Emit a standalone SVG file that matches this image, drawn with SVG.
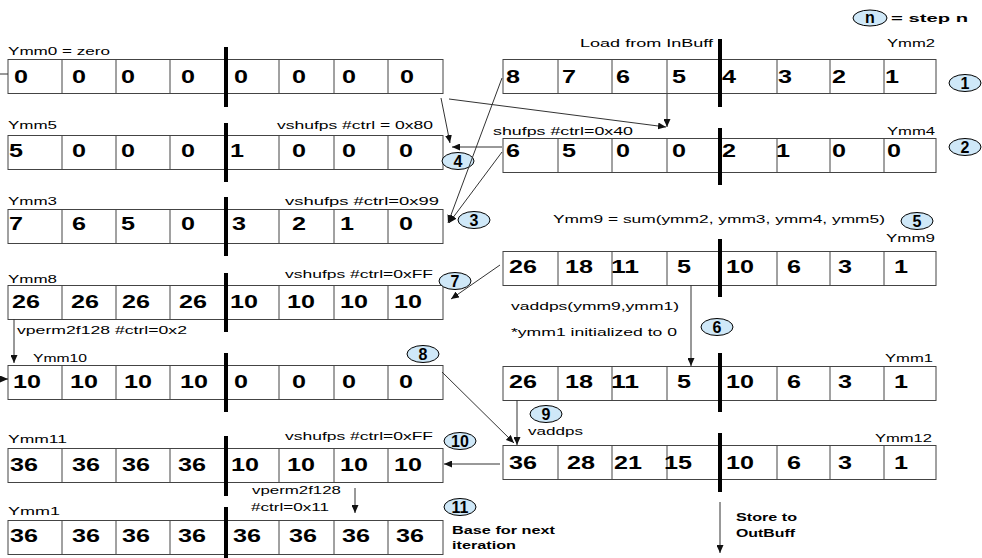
<svg xmlns="http://www.w3.org/2000/svg" width="982" height="558" viewBox="0 0 982 558">
<style>
.box{fill:#fff;stroke:#444;stroke-width:1}
.cl{stroke:#444;stroke-width:1}
.bar{fill:#000}
.d{font-family:"Liberation Sans",Arial,sans-serif;font-weight:bold;font-size:18px;fill:#000}
.t{font-family:"Liberation Sans",Arial,sans-serif;font-size:11.5px;fill:#000}
.tb{font-family:"Liberation Sans",Arial,sans-serif;font-size:11.5px;font-weight:bold;fill:#000}
.e{fill:#cfe8f8;stroke:#000;stroke-width:1}
.en{font-family:"Liberation Sans",Arial,sans-serif;font-weight:bold;font-size:16px;fill:#000;text-anchor:middle}
.c{fill:none;stroke:#333;stroke-width:1}
.a{marker-end:url(#ah)}
</style>
<defs>
<marker id="ah" markerUnits="userSpaceOnUse" markerWidth="8" markerHeight="7" refX="8" refY="3.5" orient="auto">
<path d="M0,0 L8,3.5 L0,7 z" fill="#111"/>
</marker>
<g id="cellsL">
<rect class="box" x="8" y="0" width="435" height="34"/>
<path class="cl" d="M62,0V34M116,0V34M170,0V34M279,0V34M334,0V34M388,0V34"/>
</g>
<g id="cellsR">
<rect class="box" x="503" y="0" width="433" height="34"/>
<path class="cl" d="M558,0V34M612,0V34M667,0V34M777,0V34M830,0V34M884,0V34"/>
</g>
</defs>

<g id="legend">
<ellipse class="e" cx="870" cy="18" rx="17" ry="8"/>
<text class="en" x="870" y="23">n</text>
<text class="tb" x="891" y="22" font-size="13" textLength="77" lengthAdjust="spacingAndGlyphs">= step n</text>
</g>

<g id="ymm0">
<text class="t" x="8" y="55" textLength="102" lengthAdjust="spacingAndGlyphs">Ymm0 = zero</text>
<use href="#cellsL" y="59.5"/>
<rect class="bar" x="224" y="47" width="4" height="60"/>
<g class="d">
<text x="14" y="83" textLength="14" lengthAdjust="spacingAndGlyphs">0</text>
<text x="72" y="83" textLength="14" lengthAdjust="spacingAndGlyphs">0</text>
<text x="121" y="83" textLength="14" lengthAdjust="spacingAndGlyphs">0</text>
<text x="181" y="83" textLength="14" lengthAdjust="spacingAndGlyphs">0</text>
<text x="234" y="83" textLength="14" lengthAdjust="spacingAndGlyphs">0</text>
<text x="292" y="83" textLength="14" lengthAdjust="spacingAndGlyphs">0</text>
<text x="342" y="83" textLength="14" lengthAdjust="spacingAndGlyphs">0</text>
<text x="400" y="83" textLength="14" lengthAdjust="spacingAndGlyphs">0</text>
</g>
</g>

<g id="ymm5">
<text class="t" x="8" y="129" textLength="49" lengthAdjust="spacingAndGlyphs">Ymm5</text>
<text class="t" x="277" y="129" textLength="156" lengthAdjust="spacingAndGlyphs">vshufps #ctrl = 0x80</text>
<use href="#cellsL" y="135.5"/>
<rect class="bar" x="224" y="123" width="4" height="59"/>
<g class="d">
<text x="9" y="157" textLength="14" lengthAdjust="spacingAndGlyphs">5</text>
<text x="72" y="157" textLength="14" lengthAdjust="spacingAndGlyphs">0</text>
<text x="121" y="157" textLength="14" lengthAdjust="spacingAndGlyphs">0</text>
<text x="181" y="157" textLength="14" lengthAdjust="spacingAndGlyphs">0</text>
<text x="230" y="157" textLength="14" lengthAdjust="spacingAndGlyphs">1</text>
<text x="292" y="157" textLength="14" lengthAdjust="spacingAndGlyphs">0</text>
<text x="342" y="157" textLength="14" lengthAdjust="spacingAndGlyphs">0</text>
<text x="399" y="157" textLength="14" lengthAdjust="spacingAndGlyphs">0</text>
</g>
</g>

<g id="ymm3">
<text class="t" x="8" y="205" textLength="49" lengthAdjust="spacingAndGlyphs">Ymm3</text>
<text class="t" x="285" y="205" textLength="154" lengthAdjust="spacingAndGlyphs">vshufps #ctrl=0x99</text>
<use href="#cellsL" y="209.5"/>
<rect class="bar" x="224" y="197" width="4" height="59"/>
<g class="d">
<text x="9" y="230" textLength="14" lengthAdjust="spacingAndGlyphs">7</text>
<text x="72" y="230" textLength="14" lengthAdjust="spacingAndGlyphs">6</text>
<text x="121" y="230" textLength="14" lengthAdjust="spacingAndGlyphs">5</text>
<text x="181" y="230" textLength="14" lengthAdjust="spacingAndGlyphs">0</text>
<text x="232" y="230" textLength="14" lengthAdjust="spacingAndGlyphs">3</text>
<text x="292" y="230" textLength="14" lengthAdjust="spacingAndGlyphs">2</text>
<text x="340" y="230" textLength="14" lengthAdjust="spacingAndGlyphs">1</text>
<text x="399" y="230" textLength="14" lengthAdjust="spacingAndGlyphs">0</text>
</g>
</g>

<g id="ymm8">
<text class="t" x="8" y="283" textLength="49" lengthAdjust="spacingAndGlyphs">Ymm8</text>
<text class="t" x="285" y="278" textLength="148" lengthAdjust="spacingAndGlyphs">vshufps #ctrl=0xFF</text>
<use href="#cellsL" y="285.5"/>
<rect class="bar" x="224" y="273" width="4" height="59"/>
<g class="d">
<text x="12" y="308" textLength="28" lengthAdjust="spacingAndGlyphs">26</text>
<text x="71" y="308" textLength="28" lengthAdjust="spacingAndGlyphs">26</text>
<text x="122" y="308" textLength="28" lengthAdjust="spacingAndGlyphs">26</text>
<text x="179" y="308" textLength="28" lengthAdjust="spacingAndGlyphs">26</text>
<text x="230" y="308" textLength="28" lengthAdjust="spacingAndGlyphs">10</text>
<text x="287" y="308" textLength="28" lengthAdjust="spacingAndGlyphs">10</text>
<text x="340" y="308" textLength="28" lengthAdjust="spacingAndGlyphs">10</text>
<text x="394" y="308" textLength="28" lengthAdjust="spacingAndGlyphs">10</text>
</g>
</g>

<g id="ymm10">
<text class="t" x="17" y="334" textLength="170" lengthAdjust="spacingAndGlyphs">vperm2f128 #ctrl=0x2</text>
<text class="t" x="33" y="362" textLength="54" lengthAdjust="spacingAndGlyphs">Ymm10</text>
<use href="#cellsL" y="365.5"/>
<rect class="bar" x="224" y="353" width="4" height="59"/>
<g class="d">
<text x="13" y="388" textLength="28" lengthAdjust="spacingAndGlyphs">10</text>
<text x="70" y="388" textLength="28" lengthAdjust="spacingAndGlyphs">10</text>
<text x="124" y="388" textLength="28" lengthAdjust="spacingAndGlyphs">10</text>
<text x="180" y="388" textLength="28" lengthAdjust="spacingAndGlyphs">10</text>
<text x="234" y="388" textLength="14" lengthAdjust="spacingAndGlyphs">0</text>
<text x="292" y="388" textLength="14" lengthAdjust="spacingAndGlyphs">0</text>
<text x="342" y="388" textLength="14" lengthAdjust="spacingAndGlyphs">0</text>
<text x="399" y="388" textLength="14" lengthAdjust="spacingAndGlyphs">0</text>
</g>
</g>

<g id="ymm11">
<text class="t" x="8" y="443" textLength="59" lengthAdjust="spacingAndGlyphs">Ymm11</text>
<text class="t" x="285" y="440" textLength="148" lengthAdjust="spacingAndGlyphs">vshufps #ctrl=0xFF</text>
<use href="#cellsL" y="448.5"/>
<rect class="bar" x="224" y="436" width="4" height="60"/>
<g class="d">
<text x="10" y="471" textLength="28" lengthAdjust="spacingAndGlyphs">36</text>
<text x="72" y="471" textLength="28" lengthAdjust="spacingAndGlyphs">36</text>
<text x="122" y="471" textLength="28" lengthAdjust="spacingAndGlyphs">36</text>
<text x="178" y="471" textLength="28" lengthAdjust="spacingAndGlyphs">36</text>
<text x="231" y="471" textLength="28" lengthAdjust="spacingAndGlyphs">10</text>
<text x="287" y="471" textLength="28" lengthAdjust="spacingAndGlyphs">10</text>
<text x="340" y="471" textLength="28" lengthAdjust="spacingAndGlyphs">10</text>
<text x="394" y="471" textLength="28" lengthAdjust="spacingAndGlyphs">10</text>
</g>
</g>

<g id="ymm1L">
<text class="t" x="8" y="515" textLength="52" lengthAdjust="spacingAndGlyphs">Ymm1</text>
<text class="t" x="252" y="494" textLength="89" lengthAdjust="spacingAndGlyphs">vperm2f128</text>
<text class="t" x="251" y="511" textLength="78" lengthAdjust="spacingAndGlyphs">#ctrl=0x11</text>
<use href="#cellsL" y="520.5"/>
<rect class="bar" x="224" y="507" width="4" height="51"/>
<g class="d">
<text x="10" y="542" textLength="28" lengthAdjust="spacingAndGlyphs">36</text>
<text x="72" y="542" textLength="28" lengthAdjust="spacingAndGlyphs">36</text>
<text x="122" y="542" textLength="28" lengthAdjust="spacingAndGlyphs">36</text>
<text x="178" y="542" textLength="28" lengthAdjust="spacingAndGlyphs">36</text>
<text x="233" y="542" textLength="28" lengthAdjust="spacingAndGlyphs">36</text>
<text x="289" y="542" textLength="28" lengthAdjust="spacingAndGlyphs">36</text>
<text x="342" y="542" textLength="28" lengthAdjust="spacingAndGlyphs">36</text>
<text x="396" y="542" textLength="28" lengthAdjust="spacingAndGlyphs">36</text>
</g>
<text class="tb" x="452" y="534" textLength="103" lengthAdjust="spacingAndGlyphs">Base for next</text>
<text class="tb" x="452" y="549" textLength="64" lengthAdjust="spacingAndGlyphs">iteration</text>
</g>

<g id="ymm2">
<text class="t" x="580" y="47" textLength="133" lengthAdjust="spacingAndGlyphs">Load from InBuff</text>
<text class="t" x="887" y="47" textLength="48" lengthAdjust="spacingAndGlyphs">Ymm2</text>
<use href="#cellsR" y="59.5"/>
<rect class="bar" x="718" y="39" width="4" height="68"/>
<g class="d">
<text x="506" y="83" textLength="14" lengthAdjust="spacingAndGlyphs">8</text>
<text x="562" y="83" textLength="14" lengthAdjust="spacingAndGlyphs">7</text>
<text x="616" y="83" textLength="14" lengthAdjust="spacingAndGlyphs">6</text>
<text x="672" y="83" textLength="14" lengthAdjust="spacingAndGlyphs">5</text>
<text x="722" y="83" textLength="14" lengthAdjust="spacingAndGlyphs">4</text>
<text x="778" y="83" textLength="14" lengthAdjust="spacingAndGlyphs">3</text>
<text x="832" y="83" textLength="14" lengthAdjust="spacingAndGlyphs">2</text>
<text x="885" y="83" textLength="14" lengthAdjust="spacingAndGlyphs">1</text>
</g>
</g>

<g id="ymm4">
<text class="t" x="493" y="135" textLength="140" lengthAdjust="spacingAndGlyphs">shufps #ctrl=0x40</text>
<text class="t" x="887" y="135" textLength="48" lengthAdjust="spacingAndGlyphs">Ymm4</text>
<use href="#cellsR" y="138.5"/>
<rect class="bar" x="718" y="128" width="4" height="57"/>
<g class="d">
<text x="506" y="157" textLength="14" lengthAdjust="spacingAndGlyphs">6</text>
<text x="562" y="157" textLength="14" lengthAdjust="spacingAndGlyphs">5</text>
<text x="616" y="157" textLength="14" lengthAdjust="spacingAndGlyphs">0</text>
<text x="672" y="157" textLength="14" lengthAdjust="spacingAndGlyphs">0</text>
<text x="722" y="157" textLength="14" lengthAdjust="spacingAndGlyphs">2</text>
<text x="776" y="157" textLength="14" lengthAdjust="spacingAndGlyphs">1</text>
<text x="832" y="157" textLength="14" lengthAdjust="spacingAndGlyphs">0</text>
<text x="887" y="157" textLength="14" lengthAdjust="spacingAndGlyphs">0</text>
</g>
</g>

<g id="ymm9">
<text class="t" x="553" y="223" textLength="332" lengthAdjust="spacingAndGlyphs">Ymm9 = sum(ymm2, ymm3, ymm4, ymm5)</text>
<text class="t" x="886" y="242" textLength="49" lengthAdjust="spacingAndGlyphs">Ymm9</text>
<use href="#cellsR" y="251.5"/>
<rect class="bar" x="718" y="239" width="4" height="58"/>
<g class="d">
<text x="509" y="273" textLength="28" lengthAdjust="spacingAndGlyphs">26</text>
<text x="565" y="273" textLength="28" lengthAdjust="spacingAndGlyphs">18</text>
<text x="611" y="273" textLength="28" lengthAdjust="spacingAndGlyphs">11</text>
<text x="677" y="273" textLength="14" lengthAdjust="spacingAndGlyphs">5</text>
<text x="726" y="273" textLength="28" lengthAdjust="spacingAndGlyphs">10</text>
<text x="787" y="273" textLength="14" lengthAdjust="spacingAndGlyphs">6</text>
<text x="838" y="273" textLength="14" lengthAdjust="spacingAndGlyphs">3</text>
<text x="894" y="273" textLength="14" lengthAdjust="spacingAndGlyphs">1</text>
</g>
<text class="t" x="511" y="310" textLength="168" lengthAdjust="spacingAndGlyphs">vaddps(ymm9,ymm1)</text>
<text class="t" x="511" y="336" textLength="166" lengthAdjust="spacingAndGlyphs">*ymm1 initialized to 0</text>
</g>

<g id="ymm1R">
<text class="t" x="885" y="362" textLength="48" lengthAdjust="spacingAndGlyphs">Ymm1</text>
<use href="#cellsR" y="366.5"/>
<rect class="bar" x="718" y="353" width="4" height="59"/>
<g class="d">
<text x="509" y="388" textLength="28" lengthAdjust="spacingAndGlyphs">26</text>
<text x="565" y="388" textLength="28" lengthAdjust="spacingAndGlyphs">18</text>
<text x="611" y="388" textLength="28" lengthAdjust="spacingAndGlyphs">11</text>
<text x="677" y="388" textLength="14" lengthAdjust="spacingAndGlyphs">5</text>
<text x="726" y="388" textLength="28" lengthAdjust="spacingAndGlyphs">10</text>
<text x="787" y="388" textLength="14" lengthAdjust="spacingAndGlyphs">6</text>
<text x="838" y="388" textLength="14" lengthAdjust="spacingAndGlyphs">3</text>
<text x="894" y="388" textLength="14" lengthAdjust="spacingAndGlyphs">1</text>
</g>
</g>

<g id="ymm12">
<text class="t" x="528" y="435" textLength="55" lengthAdjust="spacingAndGlyphs">vaddps</text>
<text class="t" x="875" y="442" textLength="57" lengthAdjust="spacingAndGlyphs">Ymm12</text>
<use href="#cellsR" y="445.5"/>
<rect class="bar" x="718" y="433" width="4" height="59"/>
<g class="d">
<text x="509" y="469" textLength="28" lengthAdjust="spacingAndGlyphs">36</text>
<text x="567" y="469" textLength="28" lengthAdjust="spacingAndGlyphs">28</text>
<text x="614" y="469" textLength="28" lengthAdjust="spacingAndGlyphs">21</text>
<text x="664" y="469" textLength="28" lengthAdjust="spacingAndGlyphs">15</text>
<text x="726" y="469" textLength="28" lengthAdjust="spacingAndGlyphs">10</text>
<text x="787" y="469" textLength="14" lengthAdjust="spacingAndGlyphs">6</text>
<text x="838" y="469" textLength="14" lengthAdjust="spacingAndGlyphs">3</text>
<text x="894" y="469" textLength="14" lengthAdjust="spacingAndGlyphs">1</text>
</g>
<text class="tb" x="736" y="521" textLength="61" lengthAdjust="spacingAndGlyphs">Store to</text>
<text class="tb" x="736" y="537" textLength="59" lengthAdjust="spacingAndGlyphs">OutBuff</text>
</g>

<g id="steps">
<ellipse class="e" cx="965" cy="83" rx="16" ry="8.5"/><text class="en" x="965" y="89">1</text>
<ellipse class="e" cx="965" cy="147" rx="16" ry="8.5"/><text class="en" x="965" y="153">2</text>
<ellipse class="e" cx="474" cy="220" rx="16" ry="8.5"/><text class="en" x="474" y="226">3</text>
<ellipse class="e" cx="458" cy="161" rx="16" ry="8.5"/><text class="en" x="458" y="167">4</text>
<ellipse class="e" cx="917" cy="221" rx="16" ry="8.5"/><text class="en" x="917" y="227">5</text>
<ellipse class="e" cx="717" cy="327" rx="16" ry="8.5"/><text class="en" x="717" y="333">6</text>
<ellipse class="e" cx="455" cy="281" rx="16" ry="8.5"/><text class="en" x="455" y="287">7</text>
<ellipse class="e" cx="423" cy="354" rx="16" ry="8.5"/><text class="en" x="423" y="360">8</text>
<ellipse class="e" cx="546" cy="414" rx="16" ry="8.5"/><text class="en" x="546" y="420">9</text>
<ellipse class="e" cx="460" cy="441" rx="16" ry="8.5"/><text class="en" x="460" y="447">10</text>
<ellipse class="e" cx="460" cy="507" rx="16" ry="8.5"/><text class="en" x="460" y="513">11</text>
</g>

<g id="connectors" class="c">
<path d="M0,74H8"/>
<path class="a" d="M0,379H8"/>
<path class="a" d="M14,319V363"/>
<path class="a" d="M449,99L666,127"/>
<path class="a" d="M667,94V127"/>
<path class="a" d="M441,98L450,143"/>
<path class="a" d="M502,147H452"/>
<path class="a" d="M502,78L448,223"/>
<path class="a" d="M502,152L449,223"/>
<path class="a" d="M500,265L451,299"/>
<path class="a" d="M691,285V366"/>
<path class="a" d="M517,400V445"/>
<path class="a" d="M442,372L514,443"/>
<path class="a" d="M500,464H444"/>
<path class="a" d="M355,488V513"/>
<path class="a" d="M720,502V553"/>
</g>
</svg>
